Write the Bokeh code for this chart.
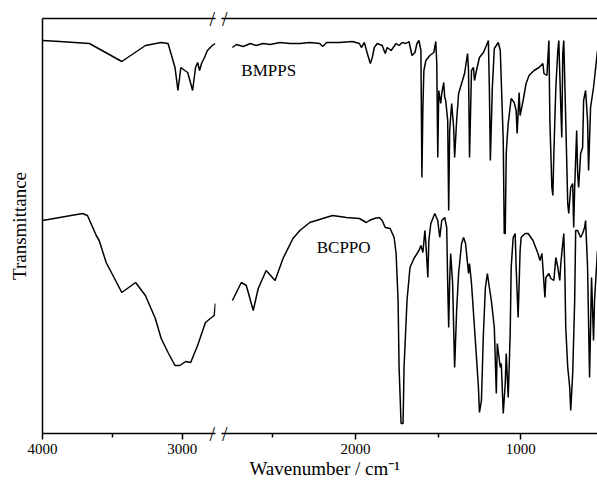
from bokeh.plotting import figure
from bokeh.models import Range1d, LinearAxis, FixedTicker, Label
from bokeh.layouts import row
from bokeh.embed import file_html
from bokeh.resources import INLINE

FONT = "Liberation Serif"

# ---------------- data (wavenumber in cm^-1, transmittance in a.u.) ----------------
bmpps_wn = [4000, 3875, 3770, 3664, 3432, 3263, 3150, 3101, 3080, 3051,
            3030, 3009, 2981, 2960, 2925, 2904, 2889, 2875, 2861, 2840,
            2819, 2784, 2763,
            2744, 2720, 2678, 2636, 2600, 2558, 2516, 2456, 2396, 2336,
            2276, 2216, 2198, 2174, 2096, 2018, 1976, 1964, 1946, 1928,
            1910, 1898, 1886, 1868, 1838, 1820, 1808, 1784, 1754, 1736,
            1718, 1694, 1676, 1658, 1640, 1628, 1616, 1604, 1598, 1592,
            1586, 1574, 1550, 1526, 1514, 1508, 1502, 1496, 1484, 1478,
            1466, 1460, 1454, 1442, 1436, 1430, 1418, 1406, 1400, 1388,
            1376, 1358, 1340, 1322, 1316, 1310, 1298, 1286, 1280, 1268,
            1250, 1226, 1208, 1196, 1190, 1184, 1172, 1160, 1136, 1124,
            1106, 1100, 1094, 1088, 1082, 1076, 1058, 1040, 1028, 1022,
            1010, 1004, 986, 968, 950, 920, 890, 866, 860, 842,
            830, 824, 812, 806, 800, 788, 776, 770, 758, 752,
            746, 740, 728, 716, 710, 698, 686, 680, 674, 662,
            656, 650, 638, 626, 620, 608, 596, 590, 578, 560,
            536]
bmpps_t = [393, 392, 391, 390, 372, 388, 391, 390, 380, 366,
           343, 366, 363, 361, 343, 366, 371, 363, 370, 376,
           383, 388, 390,
           386, 389, 387, 390, 388, 390, 389, 391, 390, 390,
           391, 390, 387, 391, 391, 392, 390, 386, 391, 380,
           370, 376, 386, 390, 388, 380, 386, 383, 390, 388,
           391, 390, 392, 378, 381, 390, 393, 383, 256, 326,
           363, 373, 378, 381, 392, 370, 276, 343, 330, 340,
           351, 336, 333, 313, 223, 303, 330, 306, 276, 313,
           340, 350, 360, 380, 363, 276, 363, 366, 353, 363,
           376, 381, 388, 393, 346, 273, 346, 385, 391, 383,
           293, 200, 200, 280, 296, 310, 335, 331, 323, 300,
           341, 318, 333, 350, 358, 363, 366, 370, 360, 358,
           393, 313, 246, 238, 280, 346, 383, 393, 326, 296,
           380, 393, 313, 230, 220, 246, 250, 206, 246, 303,
           260, 246, 280, 286, 333, 343, 313, 263, 326, 346,
           383]

bcppo_wn = [4000, 3713, 3678, 3615, 3594, 3544, 3432, 3333, 3263, 3192,
            3150, 3101, 3051, 3016, 2974, 2939, 2889, 2833, 2798, 2770,
            2762,
            2744, 2690, 2660, 2618, 2588, 2540, 2486, 2438, 2378, 2336,
            2276, 2198, 2138, 2054, 1976, 1934, 1916, 1886, 1856, 1838,
            1820, 1790, 1766, 1754, 1742, 1736, 1724, 1712, 1706, 1688,
            1670, 1646, 1616, 1604, 1592, 1580, 1574, 1562, 1556, 1544,
            1520, 1502, 1490, 1478, 1460, 1448, 1442, 1436, 1430, 1424,
            1412, 1406, 1400, 1388, 1376, 1358, 1346, 1334, 1316, 1310,
            1298, 1280, 1256, 1250, 1238, 1226, 1214, 1202, 1190, 1178,
            1160, 1148, 1142, 1124, 1118, 1106, 1094, 1088, 1076, 1064,
            1058, 1046, 1034, 1028, 1016, 1004, 998, 974, 956, 926,
            896, 884, 872, 854, 848, 830, 818, 800, 788, 776,
            764, 758, 740, 734, 728, 716, 704, 698, 686, 674,
            668, 656, 638, 626, 614, 608, 596, 584, 572, 560,
            554, 536]
bcppo_t = [213, 220, 218, 198, 193, 171, 141, 151, 138, 115,
           95, 81, 68, 68, 72, 71, 88, 111, 115, 118,
           130,
           133, 151, 148, 123, 145, 163, 153, 175, 195, 203,
           211, 215, 218, 216, 215, 211, 213, 215, 216, 213,
           206, 205, 196, 180, 133, 66, 10, 10, 66, 133,
           166, 175, 183, 188, 181, 203, 190, 156, 193, 210,
           220, 213, 196, 213, 216, 206, 150, 106, 153, 180,
           150, 106, 66, 123, 160, 190, 196, 190, 160, 170,
           150, 106, 46, 21, 33, 100, 146, 160, 146, 133,
           106, 40, 90, 66, 70, 20, 50, 80, 36, 100,
           166, 196, 200, 166, 116, 183, 196, 200, 200, 193,
           180, 173, 180, 136, 156, 160, 155, 153, 176, 166,
           153, 170, 200, 166, 106, 66, 46, 23, 60, 133,
           203, 203, 196, 200, 206, 213, 166, 56, 156, 93,
           133, 183]

left_ticks = [4000, 3000]
left_minor = [3500]
right_ticks = [2000, 1000]
right_minor = [2500, 1500]
left_span = (4000, 2761)     # axis segment before the break
right_span = (2810, 536)     # axis segment after the break
break_left = 2755            # data shown left of the break: wn >= this
y_span = (0, 415)
x_title = "Wavenumber / cm\u207b\u00b9"
x_title_at = 2186
y_title = "Transmittance"

labels = [("BMPPS", 2690, 363), ("BCPPO", 2234, 186)]

H = 485
LW = 1.5


def make_fig(width, xr, border_left):
    p = figure(width=width, height=H, x_range=Range1d(*xr), y_range=Range1d(*y_span),
               output_backend="svg", toolbar_location=None,
               x_axis_location=None, y_axis_location=None,
               min_border_left=border_left, min_border_right=0,
               min_border_top=18, min_border_bottom=52)
    p.outline_line_color = None
    p.background_fill_color = "white"
    p.border_fill_color = "white"
    p.grid.visible = False
    return p


def bare_axis(**kw):
    base = dict(axis_line_width=1.5, axis_line_color="black",
                major_tick_in=0, major_tick_out=0, minor_tick_in=0, minor_tick_out=0,
                major_tick_line_width=1.5, minor_tick_line_width=1.5,
                major_label_text_color="black")
    base.update(kw)
    return LinearAxis(**base)


def bottom_axis(ticks, minor):
    return bare_axis(ticker=FixedTicker(ticks=ticks, minor_ticks=minor),
                     major_tick_out=6, minor_tick_out=4,
                     major_label_text_font=FONT, major_label_text_font_size="15px",
                     major_label_standoff=4)


def top_axis():
    return bare_axis(ticker=FixedTicker(ticks=[]), major_label_text_font_size="0px",
                     major_label_standoff=0)


def break_axis():
    return bare_axis(ticker=FixedTicker(ticks=list(y_span)), axis_line_color=None,
                     major_tick_line_color=None, minor_tick_line_color=None,
                     major_label_overrides={y_span[0]: "/", y_span[1]: "/"},
                     major_label_text_font=FONT, major_label_text_font_size="20px",
                     major_label_standoff=-6)


# ---------------- left segment ----------------
p1 = make_fig(218, left_span, 42)
p1.add_layout(bottom_axis(left_ticks, left_minor), "below")
p1.add_layout(top_axis(), "above")
p1.add_layout(bare_axis(ticker=FixedTicker(ticks=[]), major_label_text_font_size="0px",
                        major_label_standoff=0, axis_label=y_title, axis_label_text_font=FONT,
                        axis_label_text_font_size="19px", axis_label_text_font_style="normal",
                        axis_label_text_color="black", axis_label_standoff=13), "left")
p1.add_layout(break_axis(), "right")

lw = [(w, t) for w, t in zip(bmpps_wn, bmpps_t) if w >= break_left]
p1.line([a for a, _ in lw], [b for _, b in lw], line_color="black", line_width=LW)
lc = [(w, t) for w, t in zip(bcppo_wn, bcppo_t) if w >= break_left]
p1.line([a for a, _ in lc], [b for _, b in lc], line_color="black", line_width=LW)

# ---------------- right segment ----------------
p2 = make_fig(379, right_span, 0)
p2.add_layout(bottom_axis(right_ticks, right_minor), "below")
p2.add_layout(bare_axis(ticker=FixedTicker(ticks=[x_title_at]), axis_line_color=None,
                        major_tick_line_color=None, minor_tick_line_color=None,
                        major_label_overrides={x_title_at: x_title},
                        major_label_text_font=FONT, major_label_text_font_size="19px",
                        major_label_standoff=1), "below")
p2.add_layout(top_axis(), "above")
p2.add_layout(break_axis(), "left")

rw = [(w, t) for w, t in zip(bmpps_wn, bmpps_t) if w < break_left]
p2.line([a for a, _ in rw], [b for _, b in rw], line_color="black", line_width=LW)
rc = [(w, t) for w, t in zip(bcppo_wn, bcppo_t) if w < break_left]
p2.line([a for a, _ in rc], [b for _, b in rc], line_color="black", line_width=LW)

for txt, xv, yv in labels:
    p2.add_layout(Label(x=xv, y=yv, text=txt, text_font=FONT, text_font_size="17px",
                        text_align="left", text_baseline="alphabetic", text_color="black"))

layout = row(p1, p2)
open("out.html", "w").write(file_html(layout, INLINE))
